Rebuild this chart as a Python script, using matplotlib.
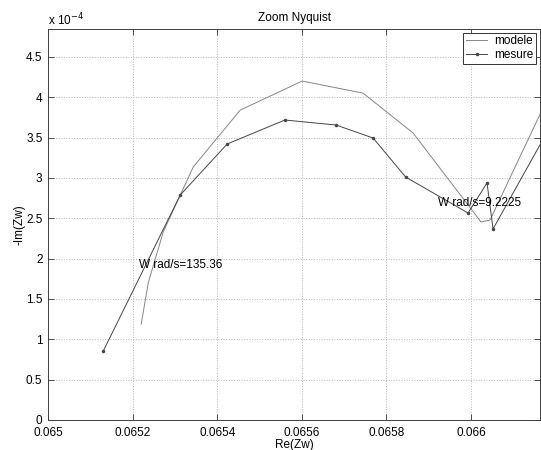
import matplotlib
matplotlib.use("Agg")
import matplotlib.pyplot as plt
from matplotlib.ticker import FuncFormatter

plt.rcParams['font.family'] = ['Liberation Sans', 'DejaVu Sans']

# --- Nyquist data (Re, -Im) ---
re_modele = [0.0652204, 0.0652370, 0.0652724, 0.0653433, 0.0654544, 0.0656009,
             0.0657450, 0.0658631, 0.0660238, 0.0660450, 0.0662104]
im_modele = [1.19e-4, 1.70e-4, 2.33e-4, 3.135e-4, 3.84e-4, 4.20e-4,
             4.05e-4, 3.556e-4, 2.453e-4, 2.478e-4, 4.312e-4]

re_mesure = [0.0651307, 0.0653126, 0.0654236, 0.0655600, 0.0656812, 0.0657686,
             0.0658454, 0.0659930, 0.0660379, 0.0660521, 0.0662104]
im_mesure = [0.855e-4, 2.788e-4, 3.42e-4, 3.717e-4, 3.655e-4, 3.494e-4,
             3.011e-4, 2.565e-4, 2.937e-4, 2.367e-4, 3.854e-4]

xticks = [0.065, 0.0652, 0.0654, 0.0656, 0.0658, 0.066]
yticks = [0, 0.5e-4, 1e-4, 1.5e-4, 2e-4, 2.5e-4, 3e-4, 3.5e-4, 4e-4, 4.5e-4]

# frequency annotations
txt_hf = (0.065216, 1.92e-4, 'W rad/s=135.36')
txt_lf = (0.065922, 2.69e-4, 'W rad/s=9.2225')

fs = 8.5
fig = plt.figure(figsize=(5.41, 4.5), dpi=100)
ax = fig.add_axes([48 / 541, 30 / 450, 492 / 541, 391 / 450])

ax.plot(re_modele, im_modele, '-', color='#858585', lw=0.7, label='modele')
ax.plot(re_mesure, im_mesure, '.-', color='#454545', lw=0.7, ms=3, label='mesure')

for x, y, s in (txt_hf, txt_lf):
    ax.text(x, y, s, fontsize=fs, ha='left', va='center')

ax.set_xlim(0.065, 0.0661631)
ax.set_ylim(0, 4.845e-4)
ax.set_xticks(xticks)
ax.set_yticks(yticks)
ax.xaxis.set_major_formatter(FuncFormatter(lambda v, p: f'{v:g}'))
ax.yaxis.set_major_formatter(FuncFormatter(lambda v, p: f'{v * 1e4:g}'))
ax.tick_params(direction='in', length=4, width=0.6, color='#333333',
               labelsize=fs, top=True, right=True, pad=4)
ax.tick_params(axis='x', pad=5)
ax.grid(True, linestyle=':', color='#b5b5b5', lw=0.7)
for sp in ax.spines.values():
    sp.set_color('#404040')
    sp.set_linewidth(0.7)

ax.set_title('Zoom Nyquist', fontsize=fs, pad=6)
ax.set_xlabel('Re(Zw)', fontsize=fs, labelpad=0)
ax.set_ylabel('-Im(Zw)', fontsize=fs, labelpad=0)
fig.text(48 / 541, 1 - 20 / 450, 'x 10$^{-4}$', fontsize=fs, ha='left', va='center')

leg = ax.legend(loc='upper right', fontsize=fs, fancybox=False, framealpha=1,
                edgecolor='#333333', handlelength=1.8, borderpad=0.25,
                labelspacing=0.15, borderaxespad=0.3, handletextpad=0.6)
leg.get_frame().set_linewidth(0.7)

fig.savefig('out.png', dpi=100, facecolor='white')
